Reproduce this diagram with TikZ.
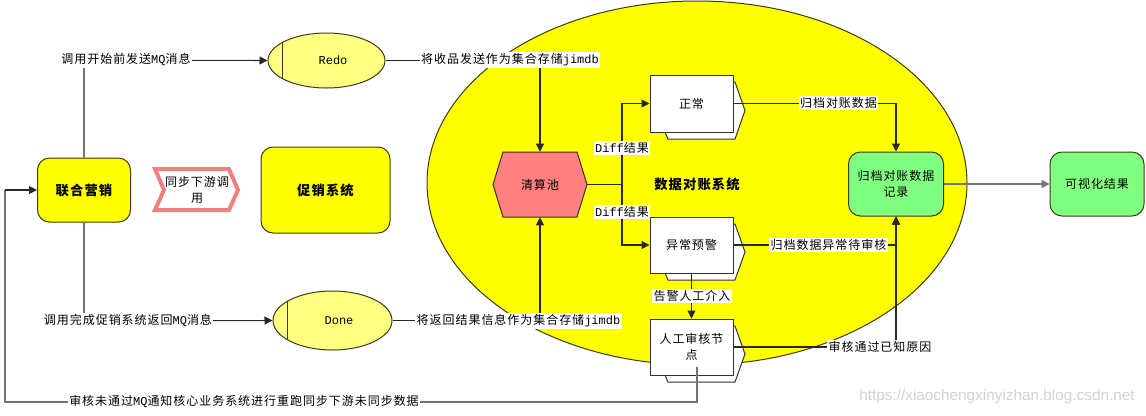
\documentclass[tikz,border=0pt]{standalone}
\usepackage{fontspec}
\setmainfont{Noto Sans CJK SC}[LetterSpace=8]
\newfontfamily\mono{Liberation Mono}
\newfontfamily\wmfont{Liberation Sans}
\usetikzlibrary{arrows.meta,shapes.geometric,calc}
\definecolor{yel}{RGB}{255,255,0}
\definecolor{lyel}{RGB}{255,255,128}
\definecolor{salmon}{RGB}{255,128,128}
\definecolor{lgreen}{RGB}{128,255,128}
\definecolor{chevc}{RGB}{240,128,128}
\definecolor{edgec}{RGB}{40,40,40}
\definecolor{bordc}{RGB}{60,60,20}
\begin{document}
\begin{tikzpicture}[x=0.75pt,y=-0.75pt,
  txt/.style={font=\fontsize{9pt}{11.5pt}\selectfont, align=center, inner sep=0pt},
  btxt/.style={font=\fontsize{10pt}{12pt}\selectfont\bfseries, align=center, inner sep=0pt},
  ybox/.style={draw=bordc, line width=0.75pt, fill=yel, rounded corners=9pt, btxt},
  gbox/.style={draw=bordc, line width=0.75pt, fill=lgreen, rounded corners=9pt, txt},
  wbox/.style={draw=black!80, line width=0.75pt, fill=white, txt, minimum width=83*0.75pt},
  backshape/.style={draw=black!80, line width=0.75pt, fill=white},
  oval/.style={ellipse, draw=bordc, line width=0.75pt, fill=lyel, txt},
  lbl/.style={txt, fill=white, inner sep=1pt},
  conn/.style={draw=edgec, line width=0.8pt},
  arr/.style={conn, -{Triangle[length=6pt,width=6pt]}},
  gconn/.style={draw=black!55, line width=1pt},
  garr/.style={gconn, -{Triangle[length=6pt,width=6pt]}}
]
\useasboundingbox (0,0) rectangle (1146,415);

% big ellipse
\node[ellipse, draw=bordc, line width=0.75pt, fill=yel, minimum width=540*0.75pt, minimum height=364*0.75pt, inner sep=0pt] (ell) at (697,183) {};
\node[btxt] (ellt) at (697,184) {数据对账系统};

% left boxes
\node[ybox, minimum width=93*0.75pt, minimum height=64*0.75pt] (lm) at (84,190) {联合营销};
\node[ybox, minimum width=129*0.75pt, minimum height=86*0.75pt] (cx) at (325.5,190) {促销系统};

% chevron
\draw[draw=chevc, line width=3pt, fill=white, line join=miter]
  (155,169) -- (229,169) -- (238,190) -- (229,210) -- (155,210) -- (164,190) -- cycle;
\node[txt] (chev) at (197,190) {同步下游调\\用};

% ovals
\node[oval, minimum width=117*0.75pt, minimum height=55*0.75pt] (redo) at (326.5,60.5) {};
\draw[draw=bordc, line width=0.75pt] (282,42.6) -- (282,78.4);
\node[txt] (redot) at (333,60.5) {\mono Redo};
\node[oval, minimum width=119*0.75pt, minimum height=59*0.75pt] (done) at (332.5,320.5) {};
\draw[draw=bordc, line width=0.75pt] (287,301.5) -- (287,339.5);
\node[txt] (donet) at (339,320.5) {\mono Done};

% hexagon
\draw[draw=black!80, line width=0.75pt, fill=salmon]
  (493,184.5) -- (503,152) -- (577,152) -- (587,184.5) -- (577,217) -- (503,217) -- cycle;
\node[txt, minimum width=94*0.75pt, minimum height=65*0.75pt] (qsc) at (540,184.5) {清算池};

% stacked boxes
\draw[backshape] (665,132) -- (668,139) -- (735,139) -- (745,110.5) -- (735,82) -- (733,82) -- cycle;
\node[wbox, minimum height=57*0.75pt] (zc) at (691.5,103.5) {正常};
\draw[backshape] (665,273) -- (668,280) -- (735,280) -- (745,252) -- (735,224) -- (733,224) -- cycle;
\node[wbox, minimum height=56*0.75pt] (yj) at (691.5,245) {异常预警};
\draw[backshape] (665,375) -- (668,382) -- (735,382) -- (745,354) -- (735,326) -- (733,326) -- cycle;
\node[wbox, minimum height=56*0.75pt] (rg) at (691.5,347) {人工审核节\\点};

% green boxes
\node[gbox, minimum width=95*0.75pt, minimum height=64*0.75pt] (gd) at (896,184) {归档对账数据\\记录};
\node[gbox, minimum width=94*0.75pt, minimum height=64*0.75pt] (kv) at (1097,184) {可视化结果};

% connectors
\coordinate (c1) at (84,60);
\coordinate (c2) at (84,321);
\draw[gconn] (lm.north) -- (c1);
\draw[arr] (c1) -- (redo.west);
\draw[gconn] (lm.south) -- (c2);
\draw[arr] (c2) -- (done.west);
\draw[arr] (redo.east) -| (qsc.north);
\draw[arr] (done.east) -| (qsc.south);
\coordinate (split) at (622,184.5);
\draw[conn] (qsc.east) -- (split);
\draw[arr] (split) |- (zc.west);
\draw[arr] (split) |- (yj.west);
\draw[arr] (zc.east) -| (gd.north);
\draw[arr] (yj.east) -| (gd.south);
\draw[arr] (rg.east) -| (gd.south);
\draw[arr] (yj.south) -- (rg.north);
\draw[garr] (gd.east) -- (kv.west);
\coordinate (rgout) at (697,367);
\coordinate (b1) at (697,402);
\coordinate (b2) at (5,402);
\coordinate (b3) at (5,190);
\draw[gconn] (rgout) -- (b1) -- (b2) -- (b3);
\draw[arr] (b3) -- (lm.west);

% labels
\node[lbl] (l1) at (126,60) {调用开始前发送{\mono MQ}消息};
\node[lbl] (l2) at (128,321) {调用完成促销系统返回{\mono MQ}消息};
\node[lbl] (l3) at (510,60) {将收品发送作为集合存储{\mono jimdb}};
\node[lbl] (l4) at (518.5,321) {将返回结果信息作为集合存储{\mono jimdb}};
\node[lbl] (l5) at (622,148) {{\mono Diff}结果};
\node[lbl] (l6) at (622,212) {{\mono Diff}结果};
\node[lbl] (l7) at (838.5,103) {归档对账数据};
\node[lbl] (l8) at (828.5,245) {归档数据异常待审核};
\node[lbl] (l9) at (880,347) {审核通过已知原因};
\node[lbl] (l10) at (692,296) {告警人工介入};
\node[lbl] (l11) at (244,402) {审核未通过{\mono MQ}通知核心业务系统进行重跑同步下游未同步数据};

% watermark
\node[font=\wmfont\fontsize{11.5pt}{13pt}\selectfont, text=black!18, inner sep=0pt] (wm) at (997,397) {https://xiaochengxinyizhan.blog.csdn.net};
\end{tikzpicture}
\end{document}
